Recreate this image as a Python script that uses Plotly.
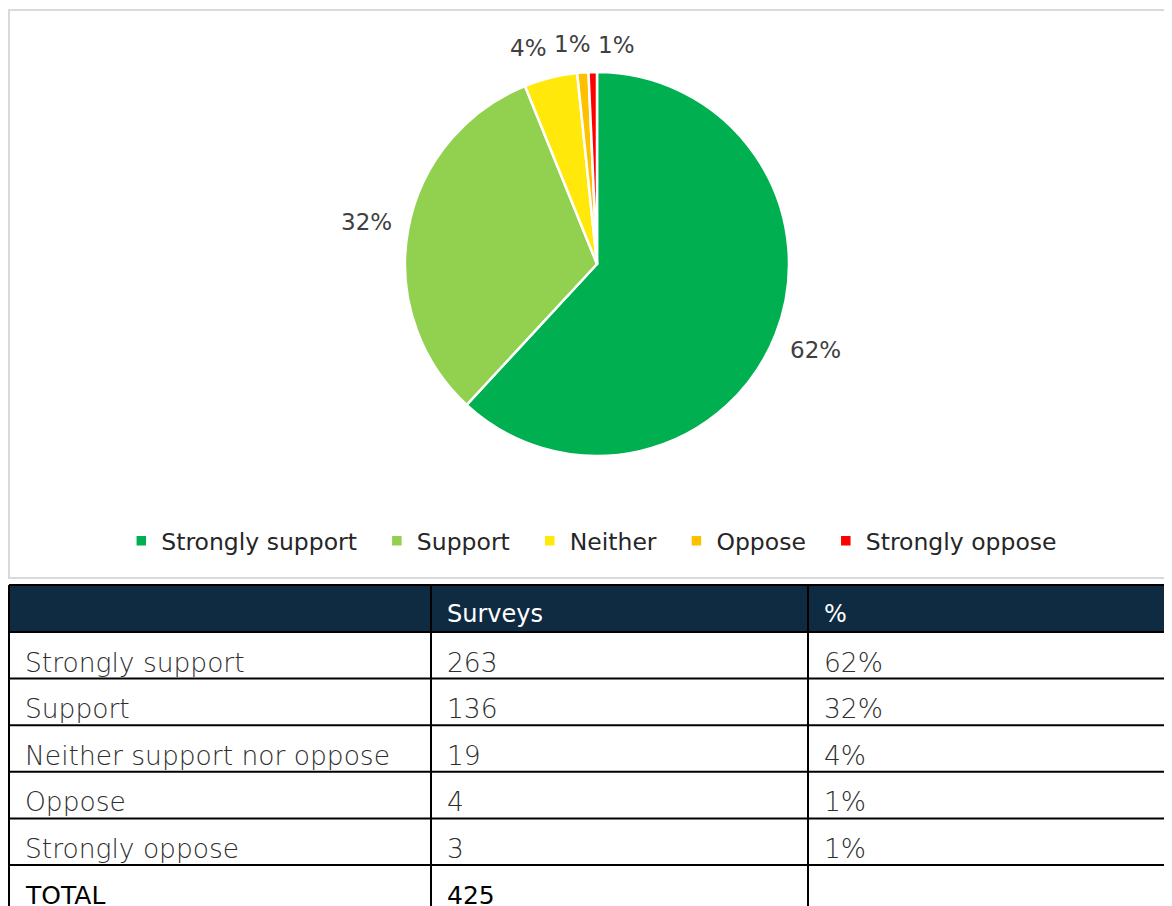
import math
import plotly.graph_objects as go

# pie data
pie_labels = ['Strongly support', 'Support', 'Neither', 'Oppose', 'Strongly oppose']
surveys = [263, 136, 19, 4, 3]
pie_colors = ['#00B050', '#92D050', '#FFE80A', '#FFC000', '#FF0000']

# table data
table_head = ['', 'Surveys', '%']
row_labels = ['Strongly support', 'Support', 'Neither support nor oppose', 'Oppose', 'Strongly oppose', 'TOTAL']
row_counts = ['263', '136', '19', '4', '3', '425']
row_pcts = ['62%', '32%', '4%', '1%', '1%', '']

# page body has an 8px margin, so the figure is drawn 8px in and down
W, H = 1164, 898
FONT = 'DejaVu Sans'
LABEL_SIZE = 23

cx, cy, R = 589, 256, 192   # pie centre / radius in figure pixels

fig = go.Figure()

fig.add_trace(go.Pie(
    labels=[s + '\u00a0' * 2 for s in pie_labels], values=surveys,
    marker=dict(colors=pie_colors, line=dict(color='white', width=2.5)),
    sort=False, direction='clockwise', rotation=0,
    textinfo='none', automargin=False,
    domain=dict(x=[(cx - R) / W, (cx + R) / W], y=[1 - (cy + R) / H, 1 - (cy - R) / H]),
    hoverinfo='label+value+percent',
))

# percentage labels outside each slice, Excel style (small slices spread sideways)
total = sum(surveys)
cum = 0
labs = []
for v in surveys:
    mid = (cum + v / 2) / total * 2 * math.pi
    cum += v
    txt = f'{round(100 * v / total)}%'
    hw, hh = 8.5 * len(txt), 12
    d = R + 15 + abs(math.sin(mid)) * hw + abs(math.cos(mid)) * hh
    labs.append([txt, d * math.sin(mid), d * math.cos(mid), hw])

GAP = 10
clusters = [[0]]
orig_x = [l[1] for l in labs]
for i in range(1, len(labs)):
    p = labs[i - 1]
    if abs(labs[i][2] - p[2]) < 24 and labs[i][1] < p[1] + p[3] + labs[i][3] + GAP:
        labs[i][1] = p[1] + p[3] + labs[i][3] + GAP
        clusters[-1].append(i)
    else:
        clusters.append([i])
for c in clusters:
    off = sum(orig_x[i] for i in c) / len(c) - sum(labs[i][1] for i in c) / len(c)
    for i in c:
        labs[i][1] += off

for txt, dx, dy, hw in labs:
    fig.add_annotation(x=cx / W, y=1 - cy / H, xref='paper', yref='paper',
                       xanchor='center', yanchor='middle',
                       xshift=dx, yshift=dy, text=txt, showarrow=False,
                       font=dict(family=FONT, size=LABEL_SIZE, color='#404040'))

# ---- table (drawn on its own pixel-unit axes) ----
col_w = [422, 377, 364]
col_x = [0]
for w in col_w:
    col_x.append(col_x[-1] + w)
HEAD_H, ROW_H = 47, 46.6
row_y = [0, HEAD_H] + [HEAD_H + ROW_H * (k + 1) for k in range(len(row_labels))]
TOP = 575
span = H - TOP

fig.update_layout(
    xaxis=dict(domain=[0, 1], range=[-1, W - 1], visible=False, fixedrange=True),
    yaxis=dict(domain=[0, 1 - TOP / H], range=[span - 2, -2], visible=False, fixedrange=True),
)

fig.add_shape(type='rect', xref='x', yref='y', x0=col_x[0], x1=col_x[-1] + 10,
              y0=row_y[0], y1=row_y[1], fillcolor='#0F2B42', line_width=0, layer='below')
for y in row_y[:-1]:
    fig.add_shape(type='line', xref='x', yref='y', x0=col_x[0], x1=col_x[-1] + 10,
                  y0=y, y1=y, line=dict(color='black', width=2))
for x in col_x[:-1]:
    fig.add_shape(type='line', xref='x', yref='y', x0=x, x1=x,
                  y0=row_y[0], y1=row_y[-1], line=dict(color='black', width=2))

PAD = 14
for j, h in enumerate(table_head):
    fig.add_annotation(x=col_x[j] + PAD, y=row_y[0] + 29, xref='x', yref='y', text=h,
                       showarrow=False, xanchor='left', yanchor='middle',
                       font=dict(family=FONT, size=24, color='white', weight=400))
for j, col in enumerate((row_labels, row_counts, row_pcts)):
    for i, val in enumerate(col):
        last = i == len(col) - 1
        fig.add_annotation(x=col_x[j] + PAD, y=row_y[i + 1] + 30, xref='x', yref='y', text=val,
                           showarrow=False, xanchor='left', yanchor='middle',
                           font=dict(family=FONT, size=25 if last else 26.5,
                                     weight=400 if last else 300,
                                     color='#000000' if last else '#2E2E2E'))

# light grey frame around the chart area
fig.add_shape(type='rect', xref='paper', yref='paper',
              x0=1 / W, x1=1.01, y0=1 - 570 / H, y1=1 - 2 / H,
              line=dict(color='#D9D9D9', width=2), fillcolor='rgba(0,0,0,0)')

fig.update_layout(
    width=W, height=H,
    margin=dict(l=0, r=0, t=0, b=0, autoexpand=False),
    paper_bgcolor='white', plot_bgcolor='rgba(0,0,0,0)',
    font=dict(family=FONT, color='#262626'),
    showlegend=True,
    legend=dict(orientation='h', x=0.508, xanchor='center', y=1 - 533 / H, yanchor='middle',
                font=dict(family=FONT, size=23.5, color='#262626'), itemwidth=30,
                traceorder='normal'),
)

fig.write_html('out.html')
